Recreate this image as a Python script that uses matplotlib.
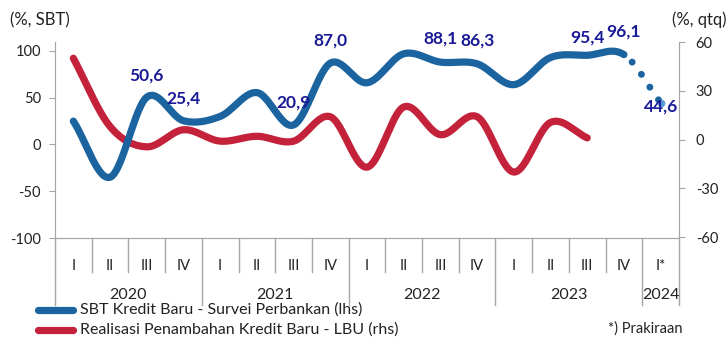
import numpy as np
import matplotlib
matplotlib.use("Agg")
import matplotlib.pyplot as plt
from matplotlib.lines import Line2D

plt.rcParams['font.family'] = ['Lato', 'DejaVu Sans']
plt.rcParams['axes.unicode_minus'] = False

# Data
quarters = ["I", "II", "III", "IV", "I", "II", "III", "IV", "I", "II", "III", "IV",
            "I", "II", "III", "IV", "I*"]
years = ["2020", "2021", "2022", "2023", "2024"]
year_counts = [4, 4, 4, 4, 1]
sbt = [25, -35, 50.6, 25.4, 30, 55.5, 20.9, 87.0, 66, 97, 88.1, 86.3, 64, 93, 95.4, 96.1, 44.6]
lbu = [50, 8, -4.5, 6, -1, 2, -1, 14, -17, 20, 3, 14, -20, 10.5, 1]
labelled = {2: "50,6", 3: "25,4", 6: "20,9", 7: "87,0", 10: "88,1", 11: "86,3",
            14: "95,4", 15: "96,1", 16: "44,6"}

BLUE = "#1b64a0"
RED = "#c4223a"
NAVY = "#1a1a96"
GREY = "#a6a6a6"


def smooth(x, y, n=30):
    # Catmull-Rom spline through the points (Excel style smoothed line)
    x = np.asarray(x, float)
    y = np.asarray(y, float)
    px = np.concatenate([[2 * x[0] - x[1]], x, [2 * x[-1] - x[-2]]])
    py = np.concatenate([[2 * y[0] - y[1]], y, [2 * y[-1] - y[-2]]])
    xs, ys = [], []
    t = np.linspace(0, 1, n)
    for i in range(1, len(px) - 2):
        for p, out in ((px, xs), (py, ys)):
            p0, p1, p2, p3 = p[i - 1], p[i], p[i + 1], p[i + 2]
            out.append(0.5 * (2 * p1 + (-p0 + p2) * t + (2 * p0 - 5 * p1 + 4 * p2 - p3) * t ** 2
                              + (-p0 + 3 * p1 - 3 * p2 + p3) * t ** 3))
    return np.concatenate(xs), np.concatenate(ys)


fig = plt.figure(figsize=(7.27, 3.47), dpi=100)
ax = fig.add_axes([55 / 727, 1 - 238 / 347, 624 / 727, 196 / 347])
ax2 = ax.twinx()

x = np.arange(len(sbt))
sx, sy = smooth(x, sbt)
solid = sx <= 15
ax.plot(sx[solid], sy[solid], color=BLUE, lw=5.2, solid_capstyle="round", zorder=3)
dot = sx >= 15
ax.plot(sx[dot], sy[dot], color=BLUE, lw=5.0, linestyle=(-1.6, (0.01, 2.2)),
        dash_capstyle="round", zorder=3)
ax.scatter([16], [sbt[16]], s=20, color="#5b9bd5", zorder=4)

rx, ry = smooth(np.arange(len(lbu)), lbu)
ax2.plot(rx, ry, color=RED, lw=5.2, solid_capstyle="round", zorder=2)
ax.set_zorder(ax2.get_zorder() + 1)
ax.patch.set_visible(False)

offsets = {2: 22, 3: 22, 6: 22, 7: 23, 10: 24, 11: 23, 14: 18, 15: 23, 16: -4}
for i, txt in labelled.items():
    ax.annotate(txt, (i, sbt[i]), xytext=(0, offsets[i]), textcoords="offset pixels",
                ha="center", va="center", color=NAVY, fontsize=12.5, fontweight="bold", zorder=5)

ax.set_xlim(-0.5, len(quarters) - 0.5)
ax.set_ylim(-100, 109.6)
ax.set_yticks([-100, -50, 0, 50, 100])
ax2.set_ylim(-60.6, 60)
ax2.set_yticks([-60, -30, 0, 30, 60])

for a in (ax, ax2):
    for s in a.spines.values():
        s.set_color(GREY)
    a.spines["top"].set_visible(False)
    a.tick_params(axis="y", colors=GREY, labelcolor="#222222", labelsize=10.5, length=4)
ax.tick_params(axis="y", pad=6)
ax2.tick_params(axis="y", pad=8)

ax.set_xticks(x)
ax.set_xticklabels(quarters, fontsize=10.5, color="#222222")
ax.tick_params(axis="x", length=0, pad=15)

# category separators below the axis
trans = ax.get_xaxis_transform()
bounds = np.cumsum([0] + year_counts) - 0.5
for b in np.arange(-0.5, len(quarters)):
    deep = np.any(np.isclose(bounds, b))
    ax.plot([b, b], [0, -0.342 if deep else -0.173], color=GREY, lw=1,
            transform=trans, clip_on=False)
for yr, lo, hi in zip(years, bounds[:-1], bounds[1:]):
    ax.text((lo + hi) / 2, -0.29, yr, transform=trans, ha="center", va="center",
            fontsize=11.5, color="#222222")

fig.text(10 / 727, 1 - 20 / 347, "(%, SBT)", fontsize=12, va="center", ha="left", color="#222222")
fig.text(726 / 727, 1 - 20 / 347, "(%, qtq)", fontsize=12, va="center", ha="right", color="#222222")

# legend
for yy, col, txt in ((310, BLUE, "SBT Kredit Baru - Survei Perbankan (lhs)"),
                     (330, RED, "Realisasi Penambahan Kredit Baru - LBU (rhs)")):
    fig.add_artist(Line2D([38 / 727, 73 / 727], [1 - yy / 347] * 2, color=col, lw=5.2,
                          solid_capstyle="round"))
    fig.text(80 / 727, 1 - yy / 347, txt, fontsize=11.5, va="center", ha="left", color="#222222")
fig.text(682 / 727, 1 - 329 / 347, "*) Prakiraan", fontsize=10.5, va="center", ha="right", color="#222222")

fig.savefig("out.png", dpi=100)
